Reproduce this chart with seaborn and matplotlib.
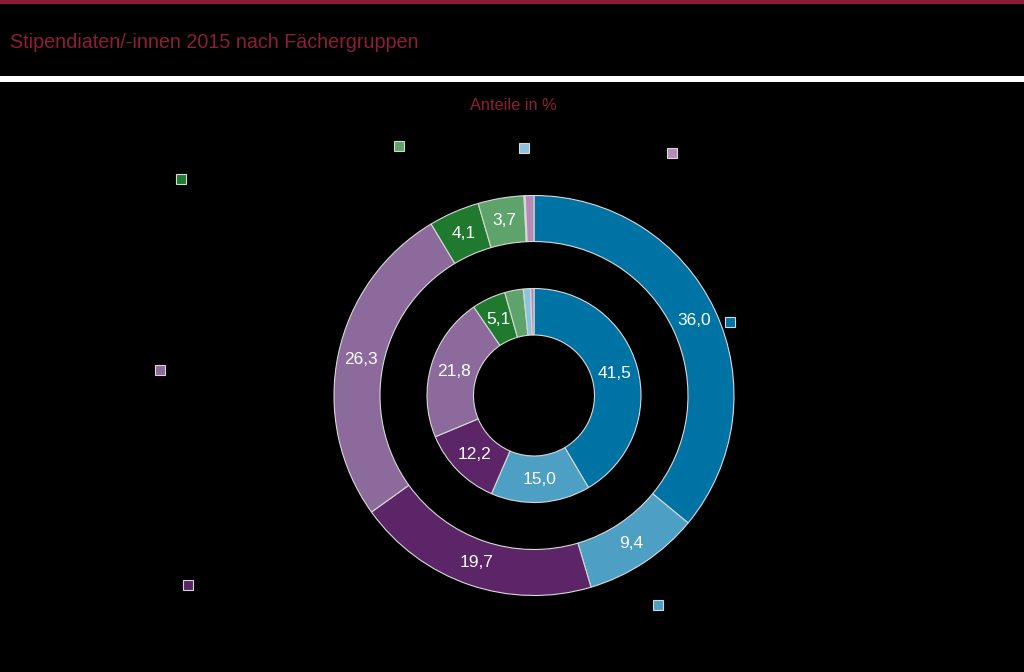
import matplotlib
matplotlib.use("Agg")
import matplotlib.pyplot as plt
import matplotlib.patches as mpatches
import seaborn as sns

sns.set_style("dark")
plt.rcParams['font.family'] = ['Liberation Sans', 'DejaVu Sans']

# Data (shares in %), clockwise from 12 o'clock
categories = ["Kat 1", "Kat 2", "Kat 3", "Kat 4", "Kat 5", "Kat 6", "Kat 7", "Kat 8"]
outer_values = [36.0, 9.4, 19.7, 26.3, 4.1, 3.7, 0.1, 0.7]
inner_values = [41.5, 15.0, 12.2, 21.8, 5.1, 2.8, 1.1, 0.5]
colors = sns.color_palette(["#0073a5", "#4d9fc3", "#5b2567", "#8d6a9c",
                            "#1f7a2f", "#5ea36b", "#8ec3dd", "#b48ab9"])
label_min = 3.5

W, H = 1024, 672
fig = plt.figure(figsize=(W / 100, H / 100), dpi=100, facecolor="black")

# decorative bands
fig.add_artist(mpatches.Rectangle((0, 1 - 4 / H), 1, 4 / H, transform=fig.transFigure,
                                  color="#8c1c33", lw=0))
fig.add_artist(mpatches.Rectangle((0, 1 - 82 / H), 1, 6 / H, transform=fig.transFigure,
                                  color="white", lw=0))
fig.text(10 / W, 1 - 42 / H, "Stipendiaten/-innen 2015 nach Fächergruppen",
         color="#8c1f36", fontsize=14.2, va="center", ha="left")
fig.text(513 / W, 1 - 106 / H, "Anteile in %", color="#8c1f36", fontsize=11.8,
         va="center", ha="center")

cx, cy, R = 534, 395.5, 200
span = 1.1 * R
ax = fig.add_axes([(cx - span) / W, (H - cy - span) / H, 2 * span / W, 2 * span / H])
ax.set_facecolor("black")
ax.axis("off")

wedge_kw = dict(edgecolor="#d8d8d8", linewidth=0.8)


def fmt(vals):
    return [f"{v:.1f}".replace(".", ",") if v >= label_min else "" for v in vals]


r_out, w_out = 1.0, 46 / R
r_in, w_in = 107 / R, 46.5 / R

ax.pie(outer_values, radius=r_out, colors=colors, startangle=90, counterclock=False,
       wedgeprops=dict(width=w_out, **wedge_kw), labels=fmt(outer_values),
       labeldistance=(r_out - w_out / 2) / r_out,
       textprops=dict(color="white", fontsize=12.5, ha="center", va="center"))
ax.pie(inner_values, radius=r_in, colors=colors, startangle=90, counterclock=False,
       wedgeprops=dict(width=w_in, **wedge_kw), labels=fmt(inner_values),
       labeldistance=(r_in - w_in / 2) / r_in,
       textprops=dict(color="white", fontsize=12.5, ha="center", va="center"))
for t in ax.texts:
    t.set_ha("center")
    t.set_va("center")
ax.set_xlim(-1.1, 1.1)
ax.set_ylim(-1.1, 1.1)
ax.set_aspect("equal")

# legend markers (labels not visible in original)
legend_pos = [(730, 322), (658, 605), (188, 585), (160, 370),
              (181, 179), (399, 146), (524, 148), (672, 153)]
s = 10
for (x, y), c in zip(legend_pos, colors):
    fig.add_artist(mpatches.Rectangle(((x - s / 2) / W, 1 - (y + s / 2) / H), s / W, s / H,
                                      transform=fig.transFigure, facecolor=c,
                                      edgecolor="#d8d8d8", lw=0.8))

fig.savefig("out.png", dpi=100, facecolor="black")
